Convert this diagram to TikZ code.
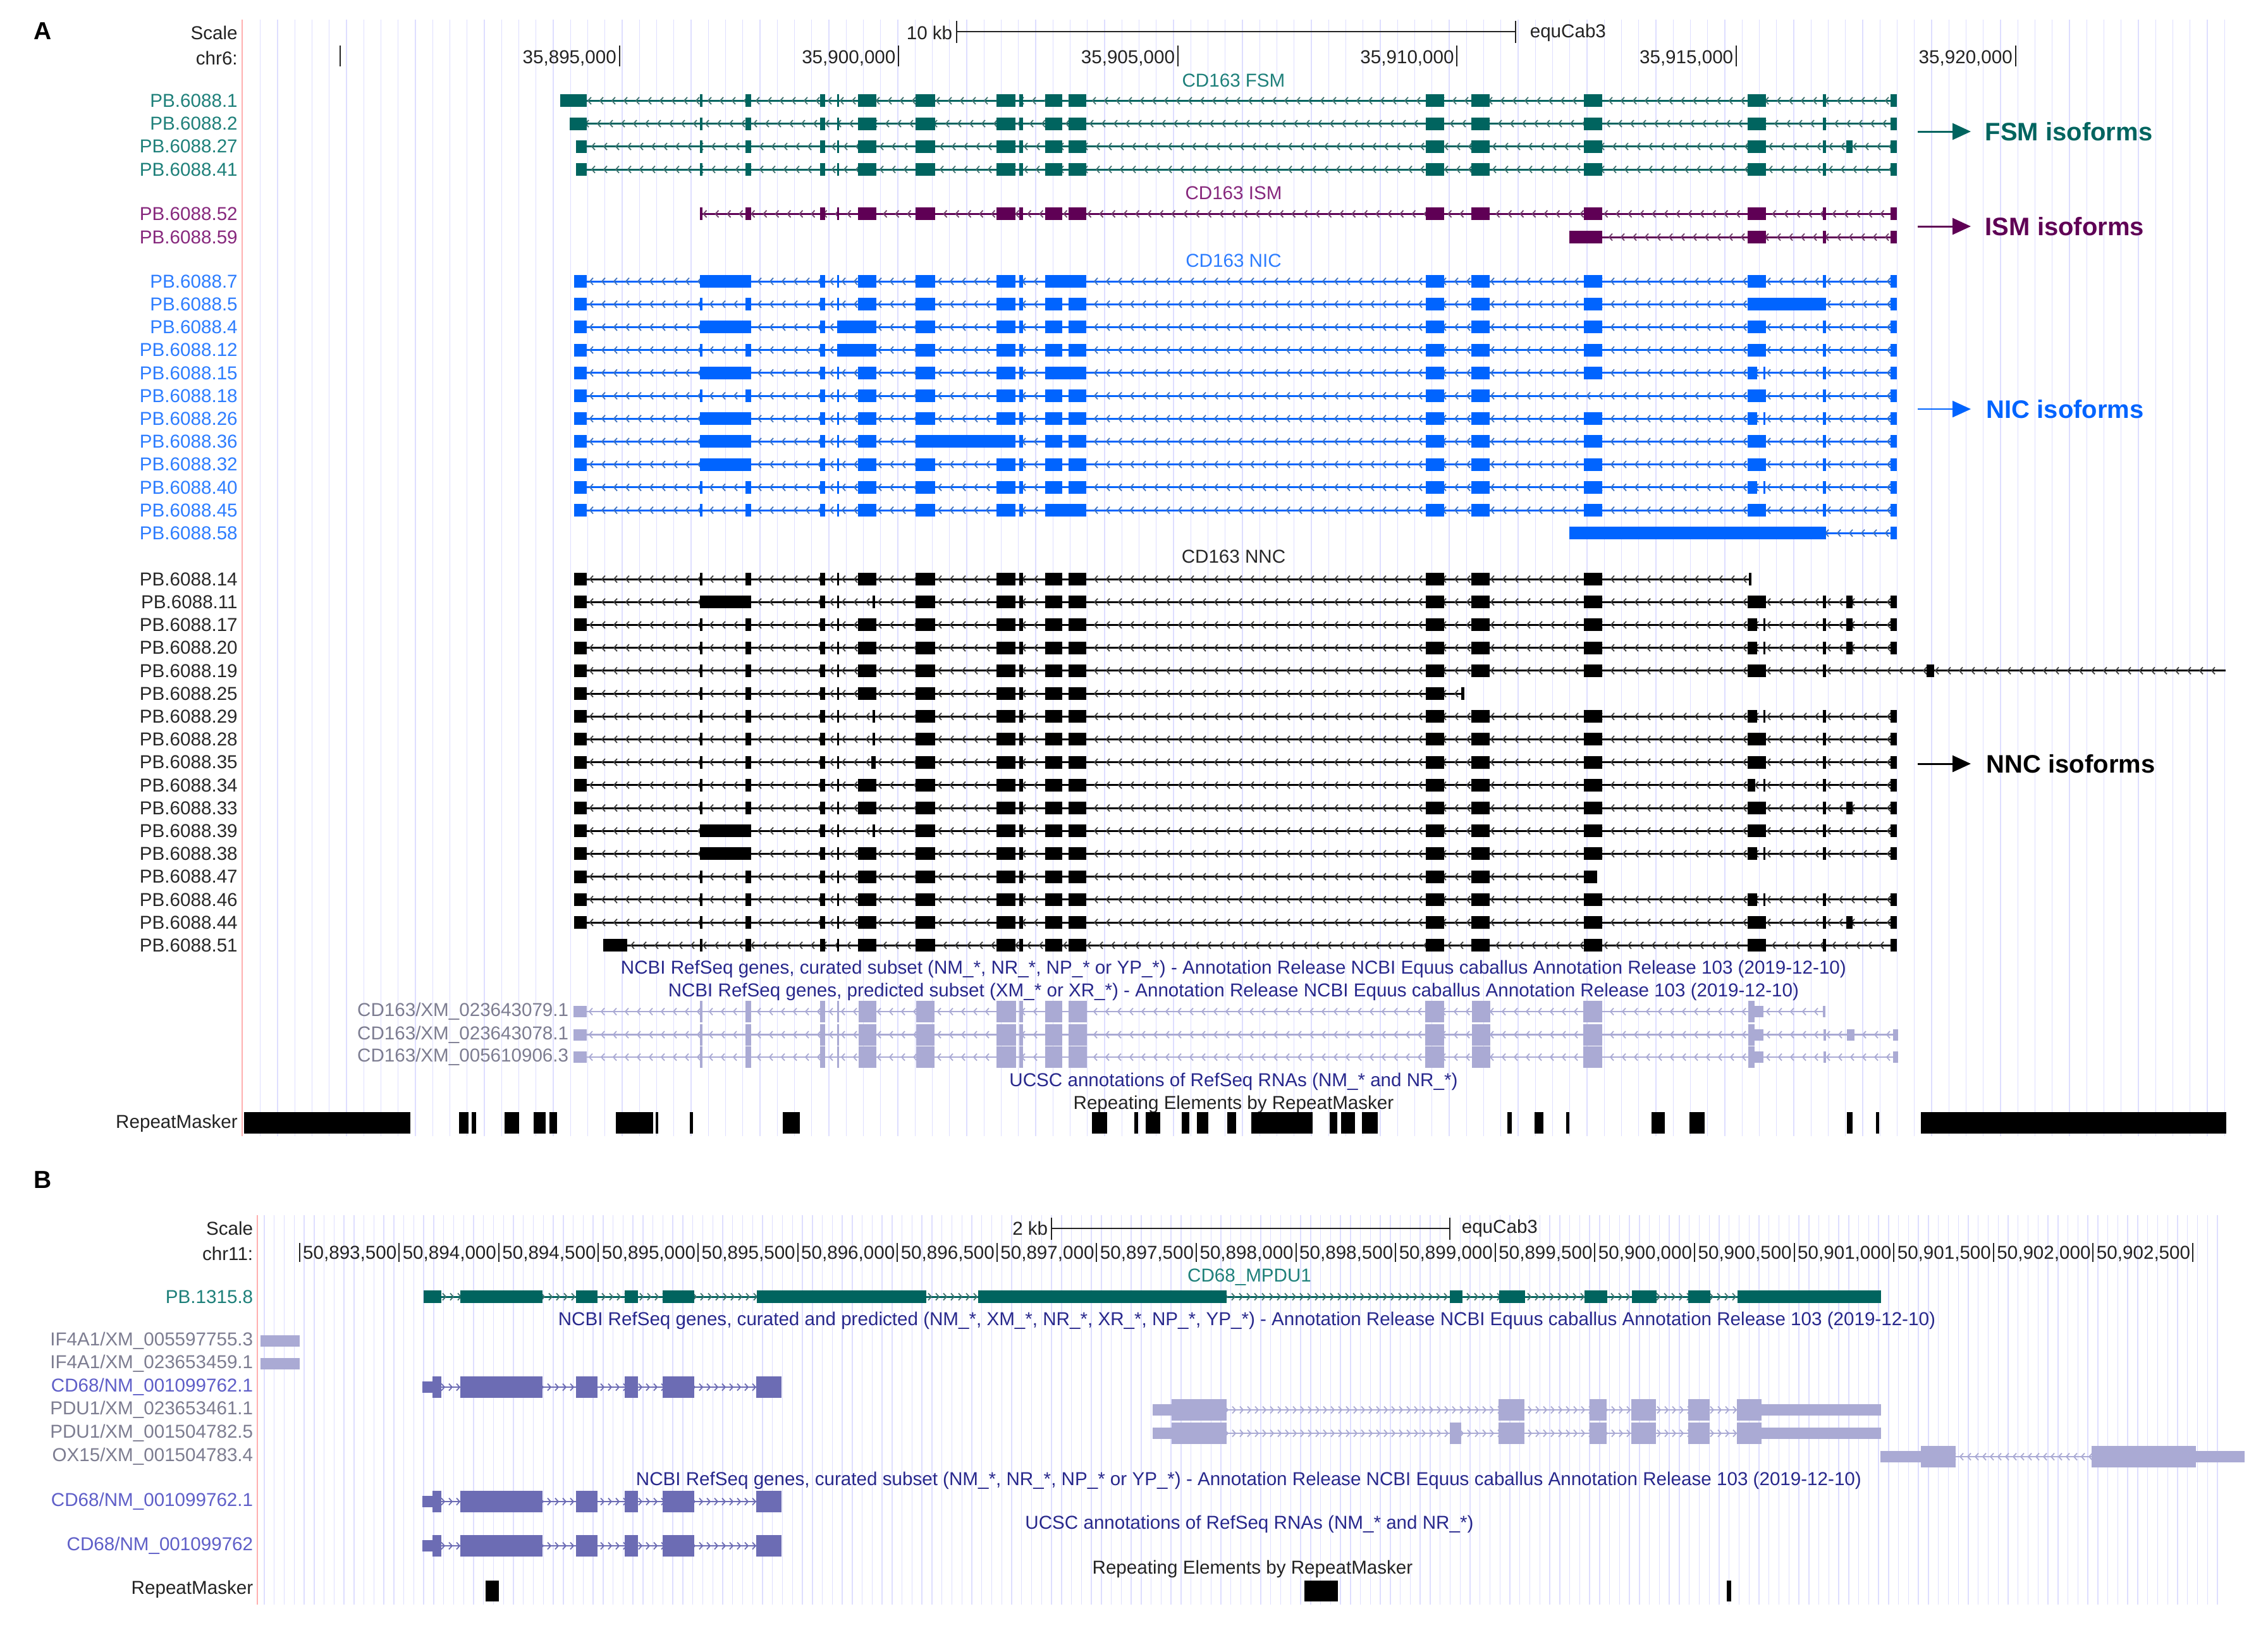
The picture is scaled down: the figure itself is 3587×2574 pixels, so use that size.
\documentclass[tikz,border=0pt]{standalone}
\usepackage{fontspec}
\setmainfont{Liberation Sans}
\usetikzlibrary{arrows.meta}
\definecolor{fsm}{RGB}{0,100,95}
\definecolor{fsml}{RGB}{30,128,122}
\definecolor{ism}{RGB}{95,0,85}
\definecolor{isml}{RGB}{135,40,125}
\definecolor{nic}{RGB}{0,100,255}
\definecolor{nicl}{RGB}{45,125,255}
\definecolor{nnc}{RGB}{0,0,0}
\definecolor{nncl}{RGB}{40,40,40}
\definecolor{pred}{RGB}{170,170,212}
\definecolor{predl}{RGB}{125,125,145}
\definecolor{cur}{RGB}{108,108,180}
\definecolor{curl}{RGB}{95,95,200}
\definecolor{ttl}{RGB}{40,40,140}
\definecolor{gridc}{RGB}{222,222,255}
\definecolor{redl}{RGB}{255,175,175}
\definecolor{txt}{RGB}{35,35,35}
\newcommand{\lbfont}{\fontsize{7.4}{8.5}\selectfont}
\newcommand{\bigfont}{\fontsize{10}{12}\selectfont\bfseries}
\tikzset{
  gridline/.style={draw=gridc, line width=0.35pt},
  lbl/.style={anchor=east, inner sep=0pt, font=\lbfont},
  ttlnode/.style={inner sep=0pt, font=\lbfont},
  intr/.style={line width=0.75pt},
  chevst/.style={line width=0.45pt},
  tickst/.style={draw=txt, line width=0.5pt},
  isoarrow/.style={line width=0.75pt, -{Triangle[length=7.25pt,width=6.5pt]}},
  isotext/.style={anchor=west, inner sep=0pt, font=\bigfont},
}
% chevrons
\newcommand{\chevL}[5]{%
  \pgfmathtruncatemacro\nch{(#3-#2-16)/#5}%
  \ifnum\nch>0
  \foreach \i in {0,...,\nch}{\draw[chevst,#4] ({#2+11+#5*\i},#1-5.5) -- ++(-5,5.5) -- ++(5,5.5);}%
  \fi}
\newcommand{\chevR}[5]{%
  \pgfmathtruncatemacro\nch{(#3-#2-16)/#5}%
  \ifnum\nch>0
  \foreach \i in {0,...,\nch}{\draw[chevst,#4] ({#2+6+#5*\i},#1-5.5) -- ++(5,5.5) -- ++(-5,5.5);}%
  \fi}
% PacBio transcript: y, colour, x1, x2, exons
\newcommand{\tr}[5]{%
  \edef\exl{#5}%
  \draw[intr,#2] (#3,#1) -- (#4,#1);
  \chevL{#1}{#3}{#4}{#2!50!gray}{19}%
  \foreach \a/\b in \exl {\fill[#2] (\a,#1-10) rectangle (\b,#1+10);}}
\newcommand{\trB}[5]{%
  \edef\exl{#5}%
  \draw[intr,#2] (#3,#1) -- (#4,#1);
  \chevR{#1}{#3}{#4}{#2!50!gray}{12}%
  \foreach \a/\b in \exl {\fill[#2] (\a,#1-10) rectangle (\b,#1+10);}}
% RefSeq row: y, colour, x1, x2, cds, utr, dir, step
\newcommand{\rsrow}[8]{%
  \draw[line width=0.6pt,#2] (#3,#1) -- (#4,#1);
  \csname chev#7\endcsname{#1}{#3}{#4}{#2}{#8}%
  \edef\cdl{#5}\edef\utl{#6}%
  \foreach \a/\b in \utl {\fill[#2] (\a,#1-9) rectangle (\b,#1+9);}%
  \foreach \a/\b in \cdl {\fill[#2] (\a,#1-17) rectangle (\b,#1+17);}}
% exon coordinates
\def\exI{908/928}
\def\exII{1106.5/1110.5}
\def\exIII{1178.5/1187.5}
\def\exIV{1296.5/1305}
\def\exV{1324/1327}
\def\exVI{1357/1386}
\def\exVII{1448/1479}
\def\exVIII{1576/1606}
\def\exIX{1612/1618}
\def\exX{1653/1680}
\def\exXI{1690/1718}
\def\exXII{2255/2284}
\def\exXIII{2327/2356}
\def\exXIV{2505/2534}
\def\exXV{2764/2793}
\def\exXVs{2764/2779,2789/2792}
\def\exXVI{2883/2888}
\def\exXVII{2920/2930}
\def\exXVIII{2990/3000}
\def\coreB{\exVII,\exVIII,\exIX,\exX,\exXI,\exXII,\exXIII}
\def\coreA{\exII,\exIII,\exIV,\exV,\exVI,\coreB}
\def\endA{\exXIV,\exXV,\exXVI,\exXVIII}
\def\rsc{1107/1110.5,1179/1188,1297/1305,1324/1327,1358/1386,1449/1478,1576/1607,1612/1618,1653/1680,1690/1719,2254/2284,2328/2357,2504/2534,2765/2775}
\def\cdcds{684/698,728/858,911/945,988/1009,1048/1098,1196/1236}
\begin{document}
\begin{tikzpicture}[x=0.25pt,y=-0.25pt]
\fill[white] (0,0) rectangle (3587,2574);
\useasboundingbox (0,0) rectangle (3587,2574);
% ---------------- grids
\foreach \i in {0,...,114} {\draw[gridline] ({411.7+27.25*\i},31) -- ++(0,1766);}
\draw[redl, line width=0.4pt] (383,31) -- (383,1797);
\foreach \i in {0,...,196} {\draw[gridline] ({418+15.76*\i},1922) -- ++(0,616);}
\draw[redl, line width=0.4pt] (407,1922) -- (407,2538);
% ---------------- panel A header
\node[inner sep=0pt, font=\fontsize{9.75}{10}\selectfont\bfseries] (pA) at (68,49) {A};
\node[lbl,text=txt] (scA) at (376.5,52) {Scale};
\node[lbl,text=txt] (chrA) at (376.5,92) {chr6:};
\coordinate (sbA1) at (1513,50); \coordinate (sbA2) at (2397,50);
\draw[tickst,line width=0.6pt] (sbA1) -- (sbA2);
\draw[tickst] (1513,33) -- (1513,68); \draw[tickst] (2397,33) -- (2397,68);
\node[lbl,text=txt] (kbA) at (1507,52) {10 kb};
\node[ttlnode,anchor=west,text=txt] (asmA) at (2419,52) {equCab3};
\foreach \k in {-1,...,5} {\draw[tickst] ({979.6+441.6*\k},72) -- ++(0,33);}
\foreach \k/\a in {0/895,1/900,2/905,3/910,4/915,5/920}
  {\node[lbl,text=txt] (rA\a) at ({979.6+441.6*\k-4},92) {35,\a,000};}
% ---------------- section titles
\node[ttlnode,text=fsml] (tFSM) at (1951,127) {CD163 FSM};
\node[ttlnode,text=isml] (tISM) at (1951,305) {CD163 ISM};
\node[ttlnode,text=nicl] (tNIC) at (1951,412) {CD163 NIC};
\node[ttlnode,text=nncl] (tNNC) at (1951,880) {CD163 NNC};
% ---------------- labels
\foreach \n [count=\i from 0] in {1,2,27,41}
  {\node[lbl,text=fsml] (lf\n) at (376.5,{159.3+36.2*\i}) {PB.6088.\n};}
\node[lbl,text=isml] (li52) at (376.5,338.3) {PB.6088.52};
\node[lbl,text=isml] (li59) at (376.5,375) {PB.6088.59};
\foreach \n [count=\i from 0] in {7,5,4,12,15,18,26,36,32,40,45,58}
  {\node[lbl,text=nicl] (ln\n) at (376.5,{445+36.2*\i}) {PB.6088.\n};}
\foreach \n [count=\i from 0] in {14,11,17,20,19,25,29,28,35,34,33,39,38,47,46,44,51}
  {\node[lbl,text=nncl] (lc\n) at (376.5,{916+36.2*\i}) {PB.6088.\n};}
% ---------------- FSM
\tr{159.3}{fsm}{886}{3000}{886/928,\coreA,\endA}
\tr{195.5}{fsm}{901}{3000}{901/928,\coreA,\endA}
\tr{231.7}{fsm}{911}{3000}{911/928,\coreA,\exXIV,\exXV,\exXVI,\exXVII,\exXVIII}
\tr{268}{fsm}{911}{3000}{911/928,\coreA,\endA}
% ---------------- ISM
\tr{338.3}{ism}{1106.5}{3000}{\coreA,\endA}
\tr{375}{ism}{2482}{3000}{2482/2534,\exXV,\exXVI,\exXVIII}
% ---------------- NIC
\tr{445}{nic}{908}{3000}{\exI,1106.5/1187.5,\exIV,\exV,\exVI,\exVII,\exVIII,\exIX,1653/1718,\exXII,\exXIII,\endA}
\tr{481.2}{nic}{908}{3000}{\exI,\coreA,\exXIV,2764/2888,\exXVIII}
\tr{517.4}{nic}{908}{3000}{\exI,1106.5/1187.5,\exIV,1324/1386,\coreB,\endA}
\tr{553.6}{nic}{908}{3000}{\exI,\exII,\exIII,\exIV,1324/1386,\coreB,\endA}
\tr{589.8}{nic}{908}{3000}{\exI,1106.5/1187.5,\exIV,\exV,\exVI,\exVII,\exVIII,\exIX,1653/1718,\exXII,\exXIII,\exXIV,\exXVs,\exXVI,\exXVIII}
\tr{626}{nic}{908}{3000}{\exI,\coreA,\exXV,\exXVI,\exXVIII}
\tr{662.2}{nic}{908}{3000}{\exI,1106.5/1187.5,\exIV,\exV,\exVI,\coreB,\exXIV,\exXVs,\exXVI,\exXVIII}
\tr{698.4}{nic}{908}{3000}{\exI,1106.5/1187.5,\exIV,\exV,\exVI,1448/1606,\exIX,\exX,\exXI,\exXII,\exXIII,\endA}
\tr{734.6}{nic}{908}{3000}{\exI,1106.5/1187.5,\exIV,\exV,\exVI,\coreB,\endA}
\tr{770.8}{nic}{908}{3000}{\exI,\coreA,\exXIV,\exXVs,\exXVI,\exXVIII}
\tr{807}{nic}{908}{3000}{\exI,\exII,\exIII,\exIV,\exV,\exVI,\exVII,\exVIII,\exIX,1653/1718,\exXII,\exXIII,\endA}
\tr{843.2}{nic}{2482}{3000}{2482/2888,\exXVIII}
% ---------------- NNC
\tr{916}{nnc}{908}{2770}{\exI,\coreA,\exXIV,2766/2770}
\tr{952.2}{nnc}{908}{3000}{\exI,1106.5/1187.5,\exIV,\exV,1380/1384,\coreB,\exXIV,\exXV,\exXVI,\exXVII,\exXVIII}
\tr{988.4}{nnc}{908}{3000}{\exI,\coreA,\exXIV,\exXVs,\exXVI,\exXVII,\exXVIII}
\tr{1024.6}{nnc}{908}{3000}{\exI,\coreA,\exXIV,\exXVs,\exXVI,\exXVII,\exXVIII}
\tr{1060.8}{nnc}{908}{3520}{\exI,\coreA,\exXIV,\exXV,\exXVI,3047/3059}
\tr{1097}{nnc}{908}{2316}{\exI,\exII,\exIII,\exIV,\exV,\exVI,\exVII,\exVIII,\exIX,\exX,\exXI,\exXII,2311/2316}
\tr{1133.2}{nnc}{908}{3000}{\exI,\exII,\exIII,\exIV,\exV,1380/1384,\coreB,\exXIV,\exXVs,\exXVI,\exXVIII}
\tr{1169.4}{nnc}{908}{3000}{\exI,\exII,\exIII,\exIV,\exV,1380/1384,\coreB,\endA}
\tr{1205.6}{nnc}{908}{3000}{\exI,\exII,\exIII,\exIV,\exV,1378/1385,\coreB,\endA}
\tr{1241.8}{nnc}{908}{3000}{\exI,\coreA,\exXIV,2764/2776,2789/2792,\exXVI,\exXVIII}
\tr{1278}{nnc}{908}{3000}{\exI,\coreA,\exXIV,\exXV,\exXVI,\exXVII,\exXVIII}
\tr{1314.2}{nnc}{908}{3000}{\exI,1106.5/1187.5,\exIV,\exV,1380/1384,\coreB,\endA}
\tr{1350.4}{nnc}{908}{3000}{\exI,1106.5/1187.5,\exIV,\exV,\exVI,\coreB,\exXIV,\exXVs,\exXVI,\exXVIII}
\tr{1386.6}{nnc}{908}{2526}{\exI,\coreA,2505/2526}
\tr{1422.8}{nnc}{908}{3000}{\exI,\coreA,\exXIV,\exXVs,\exXVI,\exXVIII}
\tr{1459}{nnc}{908}{3000}{\exI,\coreA,\exXIV,\exXV,\exXVI,\exXVII,\exXVIII}
\tr{1495.2}{nnc}{954}{3000}{954/992,\coreA,\endA}
% ---------------- isoform arrows
\node[isotext,text=fsm] (aFSM) at (3139,208) {FSM isoforms};
\node[isotext,text=ism] (aISM) at (3139,358) {ISM isoforms};
\node[isotext,text=nic] (aNIC) at (3141,647) {NIC isoforms};
\node[isotext,text=nnc] (aNNC) at (3141,1208) {NNC isoforms};
\coordinate (sFSM) at (3033,208); \coordinate (sISM) at (3033,358);
\coordinate (sNIC) at (3033,647); \coordinate (sNNC) at (3033,1208);
\draw[isoarrow,fsm] (sFSM) -- ([xshift=-5.5pt]aFSM.west);
\draw[isoarrow,ism] (sISM) -- ([xshift=-5.5pt]aISM.west);
\draw[isoarrow,nic,line width=0.5pt] (sNIC) -- ([xshift=-6pt]aNIC.west);
\draw[isoarrow,nnc] (sNNC) -- ([xshift=-6pt]aNNC.west);
% ---------------- RefSeq A
\node[ttlnode,text=ttl] (rsCur) at (1951,1533) {NCBI RefSeq genes, curated subset (NM\_*, NR\_*, NP\_* or YP\_*) - Annotation Release NCBI Equus caballus Annotation Release 103 (2019-12-10)};
\node[ttlnode,text=ttl] (rsPred) at (1951,1569) {NCBI RefSeq genes, predicted subset (XM\_* or XR\_*) - Annotation Release NCBI Equus caballus Annotation Release 103 (2019-12-10)};
\node[lbl,text=predl] (x79) at (900,1600) {CD163/XM\_023643079.1};
\node[lbl,text=predl] (x78) at (900,1636.5) {CD163/XM\_023643078.1};
\node[lbl,text=predl] (x06) at (900,1672) {CD163/XM\_005610906.3};
\rsrow{1600}{pred}{907}{2886}{\rsc}{907/928,2775/2789,2883/2887}{L}{19}
\rsrow{1636.5}{pred}{907}{3002}{\rsc}{907/928,2775/2789,2884/2888,2921/2933,2994/3002}{L}{19}
\rsrow{1672}{pred}{907}{3002}{\rsc}{907/928,2775/2789,2884/2888,2994/3002}{L}{19}
\node[ttlnode,text=ttl] (ucA) at (1951,1711) {UCSC annotations of RefSeq RNAs (NM\_* and NR\_*)};
\node[ttlnode,text=txt] (rmtA) at (1951,1747) {Repeating Elements by RepeatMasker};
\node[lbl,text=txt] (rmA) at (376.5,1777) {RepeatMasker};
\foreach \a/\b in {386/649,726/740.5,746/753,798/821,844/863,869/880.6,974/1033,1037/1041,1091/1096,1238/1265,1727/1751,1794/1800,1812/1835,1868.5/1880.5,1892.5/1910.6,1940.7/1955,1979/2075.5,2103/2115,2121/2143,2153.7/2179,2383.5/2390.7,2427/2441,2477/2482,2612/2632.6,2672/2696,2921/2930,2967/2972,3038/3521}
  {\fill[black] (\a,1759) rectangle (\b,1793);}
% ================= panel B
\node[inner sep=0pt, font=\fontsize{9.75}{10}\selectfont\bfseries] (pB) at (68,1866) {B};
\node[lbl,text=txt] (scB) at (401,1943) {Scale};
\node[lbl,text=txt] (chrB) at (401,1983) {chr11:};
\coordinate (sbB1) at (1663,1943); \coordinate (sbB2) at (2293,1943);
\draw[tickst,line width=0.6pt] (sbB1) -- (sbB2);
\draw[tickst] (1663,1926) -- (1663,1961); \draw[tickst] (2293,1926) -- (2293,1961);
\node[lbl,text=txt] (kbB) at (1658,1943) {2 kb};
\node[ttlnode,anchor=west,text=txt] (asmB) at (2311,1943) {equCab3};
\foreach \k in {0,...,19} {\draw[tickst] ({473.5+157.6*\k},1966) -- ++(0,30);}
\foreach \k/\a/\b in {1/893/500,2/894/000,3/894/500,4/895/000,5/895/500,6/896/000,7/896/500,8/897/000,9/897/500,10/898/000,11/898/500,12/899/000,13/899/500,14/900/000,15/900/500,16/901/000,17/901/500,18/902/000,19/902/500}
  {\node[lbl,text=txt] (rB\k) at ({473.5+157.6*\k-3},1983) {50,\a,\b};}
\node[ttlnode,text=fsml] (tMP) at (1976,2020) {CD68\_MPDU1};
\node[lbl,text=fsml] (lPB) at (401,2051) {PB.1315.8};
\trB{2051}{fsm}{670}{2975}{670/698,728/858,911/945,988/1009,1048/1098,1197/1465,1547/1940,2293/2313,2371/2412,2506/2542,2581/2620,2670/2705,2748/2975}
\node[ttlnode,text=ttl] (rsAll) at (1972,2089) {NCBI RefSeq genes, curated and predicted (NM\_*, XM\_*, NR\_*, XR\_*, NP\_*, YP\_*) - Annotation Release NCBI Equus caballus Annotation Release 103 (2019-12-10)};
\node[lbl,text=predl] (lIF1) at (401,2121) {IF4A1/XM\_005597755.3};
\node[lbl,text=predl] (lIF2) at (401,2157) {IF4A1/XM\_023653459.1};
\fill[pred] (412,2112) rectangle (474,2130);
\fill[pred] (412,2148) rectangle (474,2166);
\node[lbl,text=curl] (lCD1) at (401,2194) {CD68/NM\_001099762.1};
\rsrow{2194}{cur}{668}{1236}{\cdcds}{668/684}{R}{12}
\node[lbl,text=predl] (lPD1) at (401,2230) {PDU1/XM\_023653461.1};
\rsrow{2230}{pred}{1823}{2975}{1853/1940,2370/2411,2514/2541,2580/2619,2670/2704,2747/2786}{1823/1853,2786/2975}{R}{12}
\node[lbl,text=predl] (lPD2) at (401,2267) {PDU1/XM\_001504782.5};
\rsrow{2267}{pred}{1823}{2975}{1853/1940,2293/2311,2370/2411,2514/2541,2580/2619,2670/2704,2747/2786}{1823/1853,2786/2975}{R}{12}
\node[lbl,text=predl] (lOX) at (401,2304) {OX15/XM\_001504783.4};
\rsrow{2304}{pred}{2974}{3550}{3038/3093,3308/3473}{2974/3038,3473/3550}{L}{12}
\node[ttlnode,text=ttl] (rsCurB) at (1975,2342) {NCBI RefSeq genes, curated subset (NM\_*, NR\_*, NP\_* or YP\_*) - Annotation Release NCBI Equus caballus Annotation Release 103 (2019-12-10)};
\node[lbl,text=curl] (lCD2) at (401,2375) {CD68/NM\_001099762.1};
\rsrow{2375}{cur}{668}{1236}{\cdcds}{668/684}{R}{12}
\node[ttlnode,text=ttl] (ucB) at (1976,2411) {UCSC annotations of RefSeq RNAs (NM\_* and NR\_*)};
\node[lbl,text=curl] (lCD3) at (401,2445) {CD68/NM\_001099762};
\rsrow{2445}{cur}{668}{1236}{\cdcds}{668/684}{R}{12}
\node[ttlnode,text=txt] (rmtB) at (1981,2482) {Repeating Elements by RepeatMasker};
\node[lbl,text=txt] (rmB) at (401,2514) {RepeatMasker};
\foreach \a/\b in {768/789,2063/2116,2731/2738} {\fill[black] (\a,2500) rectangle (\b,2533);}
\end{tikzpicture}
\end{document}
